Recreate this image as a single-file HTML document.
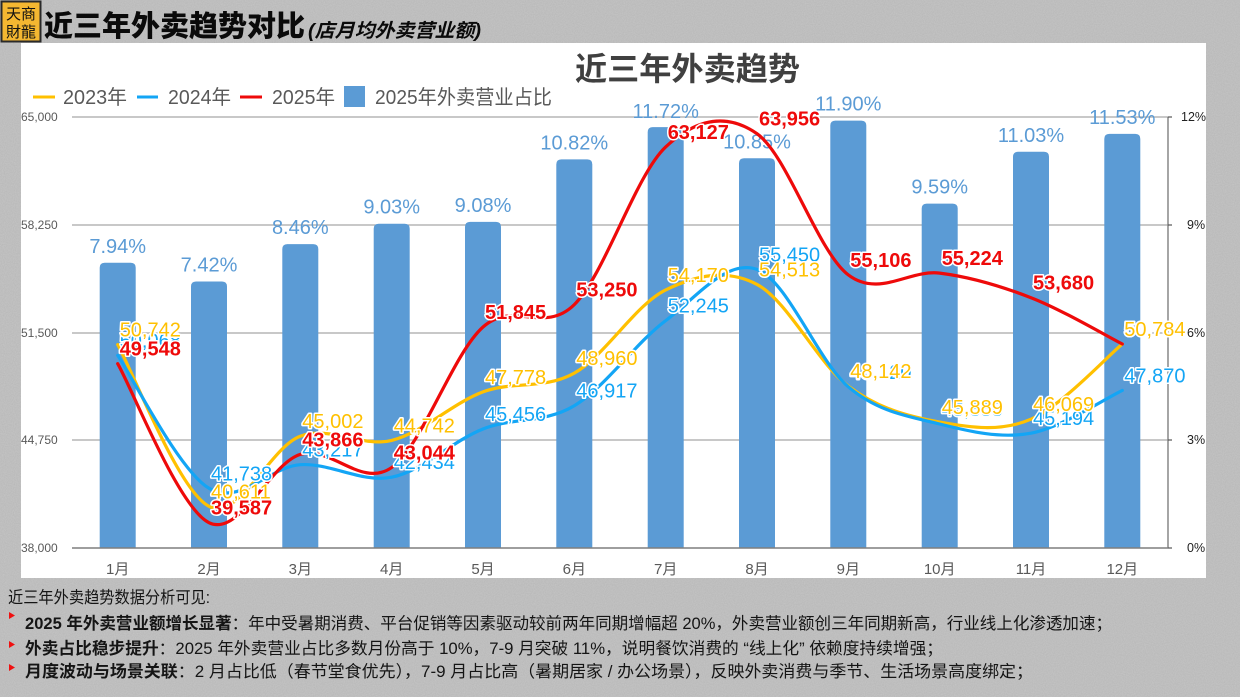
<!DOCTYPE html>
<html><head><meta charset="utf-8">
<style>
html,body{margin:0;padding:0;background:#c4c4c4;}
svg{display:block;}
text{font-family:"Liberation Sans","Noto Sans CJK SC",sans-serif;}
.cjk{font-family:"Liberation Sans","Noto Sans CJK SC",sans-serif;}
.bl{fill:#5B9BD5;font-size:20px;text-anchor:middle;}
.ly{fill:#FFC000;font-size:20px;stroke:#fff;stroke-width:3px;paint-order:stroke;stroke-linejoin:round;}
.lb{fill:#13A5F5;font-size:20px;stroke:#fff;stroke-width:3px;paint-order:stroke;stroke-linejoin:round;}
.lr{fill:#EE0A0A;font-size:20px;font-weight:bold;stroke:#fff;stroke-width:3px;paint-order:stroke;stroke-linejoin:round;}
.ax{fill:#595959;font-size:12px;}
.ar{fill:#222;font-size:12.5px;}
.xl{fill:#595959;font-size:15px;text-anchor:middle;}
.bt{fill:#151515;font-size:16.5px;}
</style></head>
<body>
<svg width="1240" height="697" viewBox="0 0 1240 697" xmlns="http://www.w3.org/2000/svg">
<defs>
<filter id="nz" x="0" y="0" width="100%" height="100%">
<feTurbulence type="fractalNoise" baseFrequency="0.9" numOctaves="2" seed="3"/>
<feColorMatrix type="matrix" values="0 0 0 0 0  0 0 0 0 0  0 0 0 0 0  0 0 0 0.08 0"/>
</filter>
</defs>
<rect x="0" y="0" width="1240" height="697" fill="#c6c6c6"/>
<rect x="0" y="0" width="1240" height="697" filter="url(#nz)"/>

<!-- logo -->
<rect x="1.5" y="1.5" width="39" height="40" fill="#F4B731" stroke="#2a2a2a" stroke-width="2"/>
<text x="21" y="19" font-size="15" fill="#111" text-anchor="middle" class="cjk" font-family="Noto Sans CJK TC, sans-serif">天商</text>
<text x="21" y="37" font-size="15" fill="#111" text-anchor="middle" class="cjk" font-family="Noto Sans CJK TC, sans-serif">財龍</text>

<!-- header title -->
<text x="44" y="36" font-size="29" font-weight="900" fill="#0a0a0a" textLength="261" lengthAdjust="spacingAndGlyphs">近三年外卖趋势对比</text>
<text x="308" y="37" font-size="19" font-weight="700" font-style="italic" fill="#0a0a0a" textLength="173" lengthAdjust="spacingAndGlyphs">(店月均外卖营业额)</text>

<!-- white panel -->
<rect x="21" y="43" width="1185" height="535" fill="#ffffff"/>

<!-- chart title -->
<text x="575" y="80" font-size="32" font-weight="700" fill="#404040" textLength="225" lengthAdjust="spacingAndGlyphs">近三年外卖趋势</text>

<!-- legend -->
<line x1="33" y1="97" x2="55" y2="97" stroke="#FFC000" stroke-width="3"/>
<text x="63" y="104" font-size="20" fill="#595959" textLength="64" lengthAdjust="spacingAndGlyphs">2023年</text>
<line x1="137" y1="97" x2="158" y2="97" stroke="#13A5F5" stroke-width="3"/>
<text x="168" y="104" font-size="20" fill="#595959" textLength="63" lengthAdjust="spacingAndGlyphs">2024年</text>
<line x1="240" y1="97" x2="262" y2="97" stroke="#EE0A0A" stroke-width="3"/>
<text x="272" y="104" font-size="20" fill="#595959" textLength="63" lengthAdjust="spacingAndGlyphs">2025年</text>
<rect x="344" y="86" width="21" height="21" fill="#5B9BD5"/>
<text x="375" y="104" font-size="20" fill="#595959" textLength="177" lengthAdjust="spacingAndGlyphs">2025年外卖营业占比</text>

<!-- gridlines -->
<g stroke="#a6a6a6" stroke-width="1.3">
<line x1="72" y1="117" x2="1168" y2="117"/>
<line x1="72" y1="225" x2="1168" y2="225"/>
<line x1="72" y1="333" x2="1168" y2="333"/>
<line x1="72" y1="440" x2="1168" y2="440"/>
</g>

<!-- bars -->
<g fill="#5B9BD5">
<path d="M99.7,548 V267.8 Q99.7,262.8 104.7,262.8 H130.7 Q135.7,262.8 135.7,267.8 V548 Z"/>
<path d="M191,548 V286.5 Q191,281.5 196,281.5 H222 Q227,281.5 227,286.5 V548 Z"/>
<path d="M282.3,548 V249.1 Q282.3,244.1 287.3,244.1 H313.3 Q318.3,244.1 318.3,249.1 V548 Z"/>
<path d="M373.7,548 V228.7 Q373.7,223.7 378.7,223.7 H404.7 Q409.7,223.7 409.7,228.7 V548 Z"/>
<path d="M465,548 V226.9 Q465,221.9 470,221.9 H496 Q501,221.9 501,226.9 V548 Z"/>
<path d="M556.3,548 V164.4 Q556.3,159.4 561.3,159.4 H587.3 Q592.3,159.4 592.3,164.4 V548 Z"/>
<path d="M647.7,548 V132.1 Q647.7,127.1 652.7,127.1 H678.7 Q683.7,127.1 683.7,132.1 V548 Z"/>
<path d="M739,548 V163.3 Q739,158.3 744,158.3 H770 Q775,158.3 775,163.3 V548 Z"/>
<path d="M830.3,548 V125.6 Q830.3,120.6 835.3,120.6 H861.3 Q866.3,120.6 866.3,125.6 V548 Z"/>
<path d="M921.7,548 V208.6 Q921.7,203.6 926.7,203.6 H952.7 Q957.7,203.6 957.7,208.6 V548 Z"/>
<path d="M1013,548 V156.8 Q1013,151.8 1018,151.8 H1044 Q1049,151.8 1049,156.8 V548 Z"/>
<path d="M1104.3,548 V138.9 Q1104.3,133.9 1109.3,133.9 H1135.3 Q1140.3,133.9 1140.3,138.9 V548 Z"/>
</g>

<!-- axes -->
<line x1="72" y1="548" x2="1168" y2="548" stroke="#7f7f7f" stroke-width="1.6"/>
<line x1="1168" y1="117" x2="1168" y2="548" stroke="#7f7f7f" stroke-width="1.4"/>
<g stroke="#555" stroke-width="1.2">
<line x1="1168" y1="117" x2="1172" y2="117"/>
<line x1="1168" y1="225" x2="1172" y2="225"/>
<line x1="1168" y1="333" x2="1172" y2="333"/>
<line x1="1168" y1="440" x2="1172" y2="440"/>
<line x1="1168" y1="548" x2="1172" y2="548"/>
</g>

<!-- left axis labels -->
<text class="ax" x="21" y="121">65,000</text>
<text class="ax" x="21" y="229">58,250</text>
<text class="ax" x="21" y="337">51,500</text>
<text class="ax" x="21" y="444">44,750</text>
<text class="ax" x="21" y="552">38,000</text>

<!-- right axis labels -->
<text class="ar" x="1181" y="121">12%</text>
<text class="ar" x="1187" y="229">9%</text>
<text class="ar" x="1187" y="337">6%</text>
<text class="ar" x="1187" y="444">3%</text>
<text class="ar" x="1187" y="552">0%</text>

<!-- x labels -->
<text class="xl" x="117.7" y="574">1月</text>
<text class="xl" x="209" y="574">2月</text>
<text class="xl" x="300.3" y="574">3月</text>
<text class="xl" x="391.7" y="574">4月</text>
<text class="xl" x="483" y="574">5月</text>
<text class="xl" x="574.3" y="574">6月</text>
<text class="xl" x="665.7" y="574">7月</text>
<text class="xl" x="757" y="574">8月</text>
<text class="xl" x="848.3" y="574">9月</text>
<text class="xl" x="939.7" y="574">10月</text>
<text class="xl" x="1031" y="574">11月</text>
<text class="xl" x="1122.3" y="574">12月</text>

<!-- bar labels -->
<text class="bl" x="117.7" y="252.8">7.94%</text>
<text class="bl" x="209" y="271.5">7.42%</text>
<text class="bl" x="300.3" y="234.1">8.46%</text>
<text class="bl" x="391.7" y="213.7">9.03%</text>
<text class="bl" x="483" y="211.9">9.08%</text>
<text class="bl" x="574.3" y="149.4">10.82%</text>
<text class="bl" x="665.7" y="118">11.72%</text>
<text class="bl" x="757" y="148.3">10.85%</text>
<text class="bl" x="848.3" y="110.6">11.90%</text>
<text class="bl" x="939.7" y="193.6">9.59%</text>
<text class="bl" x="1031" y="141.8">11.03%</text>
<text class="bl" x="1122.3" y="123.9">11.53%</text>

<!-- lines -->
<g fill="none" stroke-width="3.2" stroke-linejoin="round" stroke-linecap="round">
<path id="py" stroke="#FFC000" d="M117.7,344.6 L209,506.3 L300.3,436.2 L391.7,440.4 L483,391.9 L574.3,373.1 L665.7,289.9 L757,284.4 L848.3,386.1 L939.7,422.1 L1031,419.2 L1122.3,344"/>
<path id="pb" stroke="#13A5F5" d="M117.7,355.4 L209,488.3 L300.3,464.7 L391.7,477.2 L483,429 L574.3,405.7 L665.7,320.6 L757,269.4 L848.3,386.8 L939.7,424 L1031,433.2 L1122.3,390.4"/>
<path id="pr" stroke="#EE0A0A" d="M117.7,363.7 L209,522.7 L300.3,454.4 L391.7,467.5 L483,327 L574.3,304.6 L665.7,146.9 L757,133.7 L848.3,274.9 L939.7,273.1 L1031,297.7 L1122.3,344"/>
</g>

<!-- blue labels -->
<text class="lb" x="119.7" y="347.4">50,068</text>
<text class="lb" x="211" y="480.3">41,738</text>
<text class="lb" x="302.3" y="456.7">43,217</text>
<text class="lb" x="393.7" y="469.2">42,434</text>
<text class="lb" x="485" y="421">45,456</text>
<text class="lb" x="576.3" y="397.7">46,917</text>
<text class="lb" x="667.7" y="312.6">52,245</text>
<text class="lb" x="759" y="261.4">55,450</text>
<text class="lb" x="850.3" y="378.8">48,120</text>
<text class="lb" x="941.7" y="416">45,855</text>
<text class="lb" x="1033" y="425.2">45,194</text>
<text class="lb" x="1124.3" y="382.4">47,870</text>

<!-- red labels -->
<text class="lr" x="119.7" y="355.7">49,548</text>
<text class="lr" x="211" y="514.7">39,587</text>
<text class="lr" x="302.3" y="446.4">43,866</text>
<text class="lr" x="393.7" y="459.5">43,044</text>
<text class="lr" x="485" y="319">51,845</text>
<text class="lr" x="576.3" y="296.6">53,250</text>
<text class="lr" x="667.7" y="138.9">63,127</text>
<text class="lr" x="759" y="125.7">63,956</text>
<text class="lr" x="850.3" y="266.9">55,106</text>
<text class="lr" x="941.7" y="265.1">55,224</text>
<text class="lr" x="1033" y="289.7">53,680</text>
<text class="lr" x="1124.3" y="336">50,784</text>

<!-- yellow labels -->
<text class="ly" x="119.7" y="336.6">50,742</text>
<text class="ly" x="211" y="498.3">40,611</text>
<text class="ly" x="302.3" y="428.2">45,002</text>
<text class="ly" x="393.7" y="432.4">44,742</text>
<text class="ly" x="485" y="383.9">47,778</text>
<text class="ly" x="576.3" y="365.1">48,960</text>
<text class="ly" x="667.7" y="281.9">54,170</text>
<text class="ly" x="759" y="276.4">54,513</text>
<text class="ly" x="850.3" y="378.1">48,142</text>
<text class="ly" x="941.7" y="414.1">45,889</text>
<text class="ly" x="1033" y="411.2">46,069</text>
<text class="ly" x="1124.3" y="336">50,784</text>

<!-- bottom text -->
<text class="bt" x="8" y="603" textLength="202" lengthAdjust="spacingAndGlyphs">近三年外卖趋势数据分析可见:</text>
<g fill="#F01010">
<path d="M9,612 L15,615.5 L9,619 Z"/>
<path d="M9,641 L15,644.5 L9,648 Z"/>
<path d="M9,664 L15,667.5 L9,671 Z"/>
</g>
<text class="bt" x="25" y="629" textLength="1087" lengthAdjust="spacingAndGlyphs"><tspan font-weight="bold">2025 年外卖营业额增长显著</tspan>：年中受暑期消费、平台促销等因素驱动较前两年同期增幅超 20%，外卖营业额创三年同期新高，行业线上化渗透加速；</text>
<text class="bt" x="25" y="654" textLength="918" lengthAdjust="spacingAndGlyphs"><tspan font-weight="bold">外卖占比稳步提升</tspan>：2025 年外卖营业占比多数月份高于 10%，7-9 月突破 11%，说明餐饮消费的 “线上化” 依赖度持续增强；</text>
<text class="bt" x="25" y="677" textLength="1008" lengthAdjust="spacingAndGlyphs"><tspan font-weight="bold">月度波动与场景关联</tspan>：2 月占比低（春节堂食优先），7-9 月占比高（暑期居家 / 办公场景），反映外卖消费与季节、生活场景高度绑定；</text>
</svg>
<script>
(function(){
  var xs=[117.7,209,300.3,391.7,483,574.3,665.7,757,848.3,939.7,1031,1122.3];
  var S={py:[344.6,506.3,436.2,440.4,391.9,373.1,289.9,284.4,386.1,422.1,419.2,344],
         pb:[355.4,488.3,464.7,477.2,429,405.7,320.6,269.4,386.8,424,433.2,390.4],
         pr:[363.7,522.7,454.4,467.5,327,304.6,146.9,133.7,274.9,273.1,297.7,344]};
  for(var id in S){
    var ys=S[id],n=ys.length,d="M"+xs[0]+","+ys[0];
    for(var i=0;i<n-1;i++){
      var i0=Math.max(0,i-1),i3=Math.min(n-1,i+2);
      var c1x=xs[i]+(xs[i+1]-xs[i0])/6,c1y=ys[i]+(ys[i+1]-ys[i0])/6;
      var c2x=xs[i+1]-(xs[i3]-xs[i])/6,c2y=ys[i+1]-(ys[i3]-ys[i])/6;
      d+=" C"+c1x.toFixed(1)+","+c1y.toFixed(1)+" "+c2x.toFixed(1)+","+c2y.toFixed(1)+" "+xs[i+1]+","+ys[i+1];
    }
    var el=document.getElementById(id); if(el) el.setAttribute("d",d);
  }
})();
</script>
</body></html>
